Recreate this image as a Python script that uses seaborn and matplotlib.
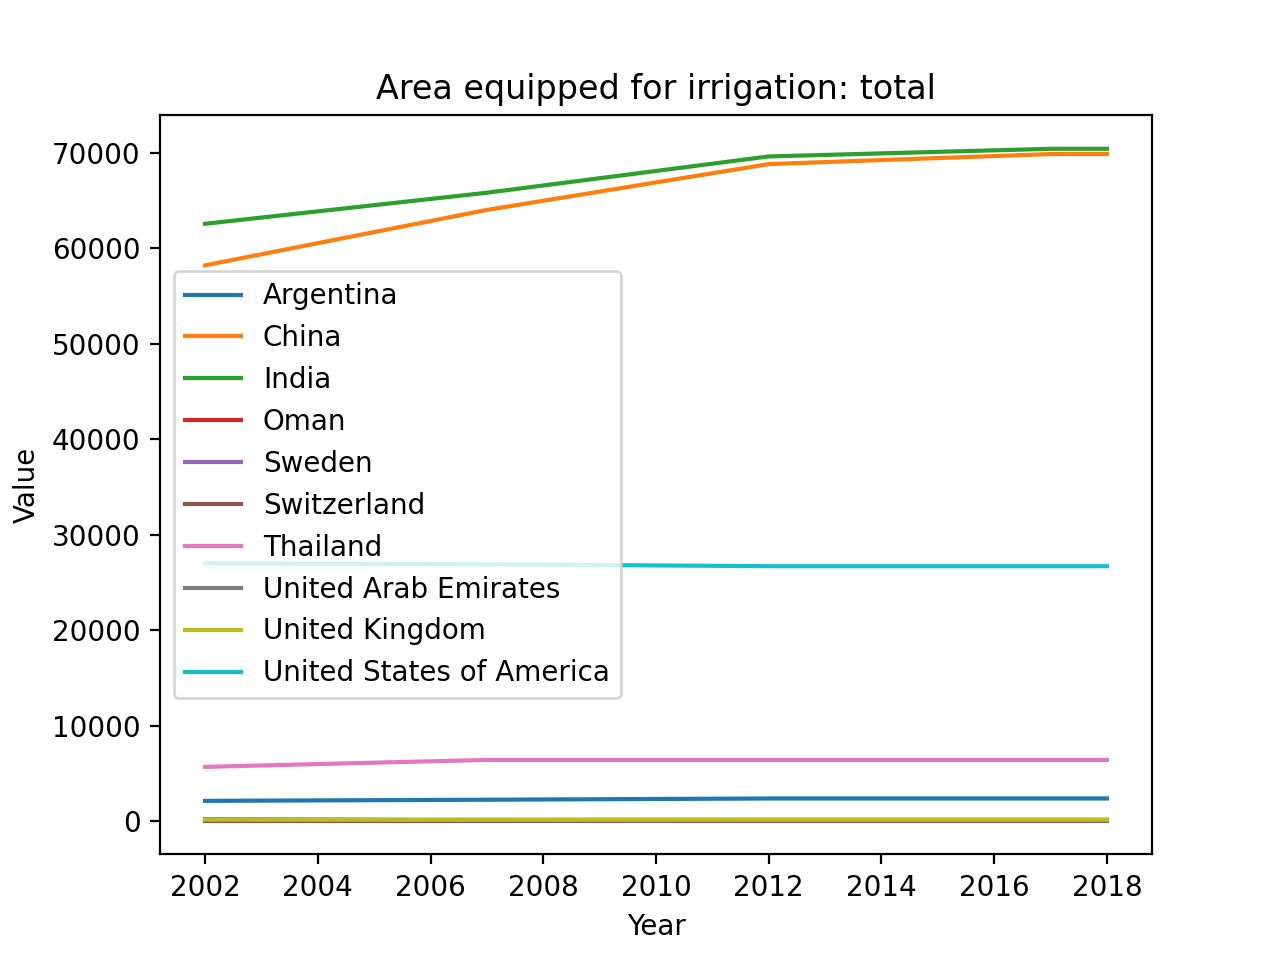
import pandas as pd
import matplotlib
matplotlib.use("Agg")
import matplotlib.pyplot as plt
import seaborn as sns

# Area equipped for irrigation (1000 ha)
years = [2002, 2007, 2012, 2017, 2018]
countries = ["Argentina", "China", "India", "Oman", "Sweden", "Switzerland",
             "Thailand", "United Arab Emirates", "United Kingdom",
             "United States of America"]

argentina = [2130, 2250, 2380, 2380, 2380]
china = [58200, 64000, 68800, 69850, 69850]
india = [62550, 65800, 69600, 70400, 70400]
oman = [73, 59, 59, 59, 59]
sweden = [160, 160, 160, 160, 160]
switzerland = [43, 43, 43, 43, 43]
thailand = [5690, 6420, 6420, 6420, 6420]
uae = [227, 92, 92, 92, 92]
uk = [170, 170, 180, 180, 180]
usa = [27000, 26900, 26700, 26700, 26700]

series = [argentina, china, india, oman, sweden, switzerland,
          thailand, uae, uk, usa]

rows = []
for name, vals in zip(countries, series):
    for y, v in zip(years, vals):
        rows.append({"Country": name, "Year": y, "Value": v})
df = pd.DataFrame(rows)

fig, ax = plt.subplots(figsize=(6.4, 4.8), dpi=200)
sns.lineplot(data=df, x="Year", y="Value", hue="Country",
             palette="tab10", ax=ax)
ax.set_title("Area equipped for irrigation: total")
ax.set_xlabel("Year")
ax.set_ylabel("Value")
ax.legend(loc="center left")

plt.savefig("out.png", dpi=200)
